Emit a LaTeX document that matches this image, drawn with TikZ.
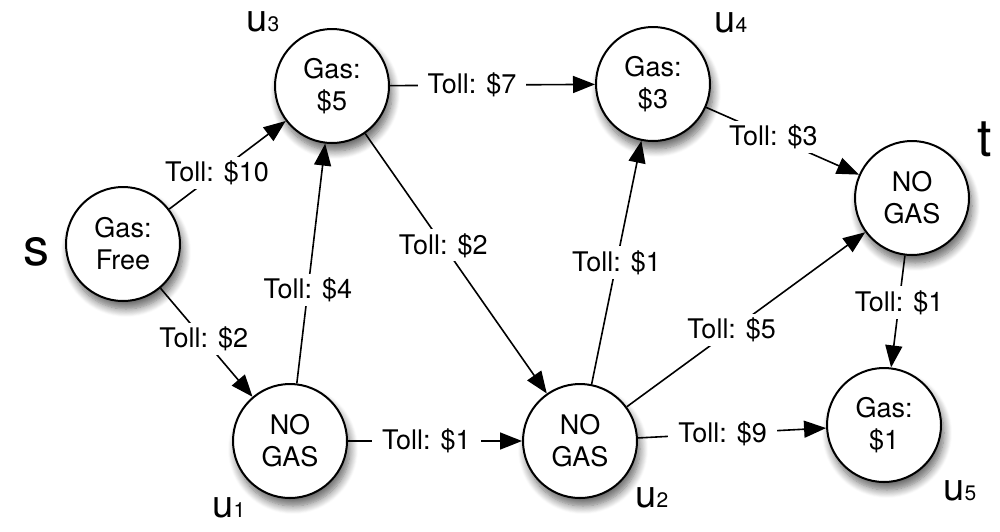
\documentclass[tikz,border=0pt]{standalone}
\usepackage{fontspec}
\setmainfont{TeX Gyre Heros}
\usetikzlibrary{arrows.meta,shadows.blur}
\begin{document}
\begin{tikzpicture}[x=0.5pt,y=-0.5pt,
  st/.style={circle,draw,line width=1pt,fill=white,minimum size=57pt,inner sep=0pt,align=center,
    font=\fontsize{13.5}{16}\selectfont,
    blur shadow={shadow xshift=1.5pt,shadow yshift=-4pt,shadow blur radius=4pt,shadow blur steps=10,shadow opacity=60}},
  ed/.style={line width=0.8pt,-{Triangle[length=11pt,width=8.5pt]}},
  lbl/.style={fill=white,inner xsep=5pt,inner ysep=2pt,font=\fontsize{13.5}{16}\selectfont},
  nm/.style={inner sep=0pt},
  big/.style={font=\fontsize{26}{30}\selectfont,inner sep=0pt}]
\useasboundingbox (0,0) rectangle (1000,531);
\newcommand{\ulab}[1]{{\fontsize{19}{22}\selectfont u}{\fontsize{10.5}{12}\selectfont #1}}
% nodes
\node[st] (s)  at (123,244) {Gas:\\Free};
\node[st] (u3) at (332,86)  {Gas:\\\$5};
\node[st] (u4) at (653,84)  {Gas:\\\$3};
\node[st] (t)  at (912,198) {NO\\GAS};
\node[st] (u1) at (290,441) {NO\\GAS};
\node[st] (u2) at (580,441) {NO\\GAS};
\node[st] (u5) at (884,425) {Gas:\\\$1};
% names
\node[big] (ls) at (36,252) {s};
\node[big] (lt) at (985,139) {t};
\node[nm] (l3) at (263,22) {\ulab{3}};
\node[nm] (l4) at (731,23) {\ulab{4}};
\node[nm] (l1) at (229,508) {\ulab{1}};
\node[nm] (l2) at (652,498) {\ulab{2}};
\node[nm] (l5) at (960,491) {\ulab{5}};
% edges
\draw[ed] (s)  -- node[lbl,pos=0.41] {Toll: \$10} (u3);
\draw[ed] (s)  -- node[lbl,pos=0.47] {Toll: \$2} (u1);
\draw[ed] (u1) -- node[lbl,pos=0.39] {Toll: \$4} (u3);
\draw[ed] (u3) -- node[lbl,pos=0.43] {Toll: \$2} (u2);
\draw[ed] (u3) -- node[lbl,pos=0.40] {Toll: \$7} (u4);
\draw[ed] (u1) -- node[lbl,pos=0.45] {Toll: \$1} (u2);
\draw[ed] (u2) -- node[lbl,pos=0.50] {Toll: \$1} (u4);
\draw[ed] (u4) -- node[lbl,pos=0.44] {Toll: \$3} (t);
\draw[ed] (u2) -- node[lbl,pos=0.44] {Toll: \$5} (t);
\draw[ed] (t)  -- node[lbl,pos=0.42] {Toll: \$1} (u5);
\draw[ed] (u2) -- node[lbl,pos=0.45] {Toll: \$9} (u5);
\end{tikzpicture}
\end{document}
